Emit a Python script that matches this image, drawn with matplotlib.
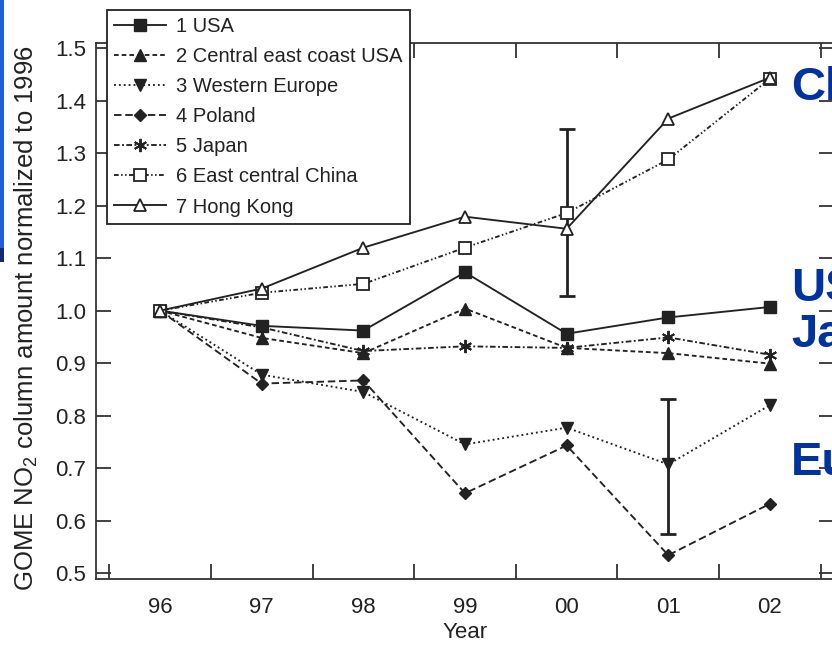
import matplotlib
matplotlib.use("Agg")
import matplotlib.pyplot as plt
from matplotlib.ticker import FixedLocator, FixedFormatter
from matplotlib.patches import Rectangle

plt.rcParams['font.family'] = ['Liberation Sans', 'DejaVu Sans']
plt.rcParams['mathtext.fontset'] = 'custom'
plt.rcParams['mathtext.rm'] = 'Liberation Sans'
plt.rcParams['mathtext.it'] = 'Liberation Sans:italic'

# ---- data ----
years = [96, 97, 98, 99, 100, 101, 102]
year_labels = ['96', '97', '98', '99', '00', '01', '02']
usa = [1.0, 0.971, 0.962, 1.073, 0.956, 0.987, 1.007]
ce_usa = [1.0, 0.948, 0.919, 1.004, 0.929, 0.919, 0.899]
w_europe = [1.0, 0.878, 0.845, 0.745, 0.777, 0.707, 0.820]
poland = [1.0, 0.861, 0.867, 0.652, 0.743, 0.534, 0.632]
japan = [1.0, 0.968, 0.923, 0.932, 0.929, 0.949, 0.916]
china = [1.0, 1.034, 1.051, 1.120, 1.186, 1.288, 1.442]
hong_kong = [1.0, 1.042, 1.120, 1.179, 1.156, 1.366, 1.444]

series_names = ['1 USA', '2 Central east coast USA', '3 Western Europe', '4 Poland',
                '5 Japan', '6 East central China', '7 Hong Kong']

err_x = [100, 101]
err_lo = [1.027, 0.574]
err_hi = [1.346, 0.831]

y_ticks = [0.5, 0.6, 0.7, 0.8, 0.9, 1.0, 1.1, 1.2, 1.3, 1.4, 1.5]
region_labels = ['China', 'USA', 'Japan', 'Europe']

# ---- figure ----
W, H = 832, 645
fig = plt.figure(figsize=(W / 100, H / 100), dpi=100)
ax = fig.add_axes([96 / W, 1 - 579 / H, (834 - 96) / W, (579 - 43) / H])

lc = '#222222'
lw = 1.35
styles = [
    dict(ls='-', marker='s', ms=8.5, mfc=lc, mec=lc),
    dict(ls=(0, (2.5, 1.6)), marker='^', ms=8, mfc=lc, mec=lc),
    dict(ls=(0, (1, 1.6)), marker='v', ms=8.5, mfc=lc, mec=lc),
    dict(ls=(0, (4, 2)), marker='D', ms=6.3, mfc=lc, mec=lc),
    dict(ls=(0, (3, 1.3, 1, 1.3)), marker=(6, 2, 0), ms=9.5, mfc=lc, mec=lc, mew=1.4),
    dict(ls=(0, (2.5, 1.3, 0.8, 1.3, 0.8, 1.3)), marker='s', ms=8.5, mfc='white', mec=lc, mew=1.3),
    dict(ls='-', marker='^', ms=9, mfc='white', mec=lc, mew=1.3),
]
data = [usa, ce_usa, w_europe, poland, japan, china, hong_kong]

# error bars (below markers)
mid = [(a + b) / 2 for a, b in zip(err_lo, err_hi)]
half = [(b - a) / 2 for a, b in zip(err_lo, err_hi)]
ax.errorbar(err_x, mid, yerr=half, fmt='none', ecolor=lc, elinewidth=2.0,
            capsize=5.5, capthick=2.0, zorder=2)

handles = []
for vals, st, name in zip(data, styles, series_names):
    h, = ax.plot(years, vals, color=lc, lw=lw, label=name, zorder=3, **st)
    handles.append(h)

ax.set_xlim(95.37, 102.63)
ax.set_ylim(0.4886, 1.510)

# x ticks: labels at years, tick marks at half-years
ax.xaxis.set_major_locator(FixedLocator(years))
ax.xaxis.set_major_formatter(FixedFormatter(year_labels))
ax.xaxis.set_minor_locator(FixedLocator([y - 0.5 for y in years] + [years[-1] + 0.5]))
ax.tick_params(axis='x', which='major', length=0, pad=13, labelsize=16, colors='#222222')
ax.tick_params(axis='x', which='minor', direction='in', length=11, width=1.3,
               top=True, bottom=True, color='#333333')
ax.set_yticks(y_ticks)
ax.set_yticklabels([f'{v:.1f}' for v in y_ticks])
ax.tick_params(axis='y', which='major', direction='in', length=11, width=1.3,
               left=True, right=True, pad=7, labelsize=16, colors='#222222')
ax.tick_params(axis='y', which='major', color='#333333')

for sp in ax.spines.values():
    sp.set_linewidth(1.3)
    sp.set_color('#333333')

ax.set_xlabel('Year', fontsize=16, color='#222222', labelpad=3)
fig.text(26 / W, 1 - 318 / H, 'GOME NO$_2$ column amount normalized to 1996',
         rotation=90, ha='center', va='center', fontsize=18.5, color='#222222')

leg = fig.legend(handles=handles, loc='upper left',
                 bbox_to_anchor=(107 / W, 1 - 10 / H), bbox_transform=fig.transFigure,
                 fontsize=14.5, frameon=True, fancybox=False, framealpha=1,
                 edgecolor='#222222', borderpad=0.35, labelspacing=0.55,
                 handlelength=2.6, handletextpad=0.5, borderaxespad=0, numpoints=1)
leg.get_frame().set_linewidth(1.3)
for t in leg.get_texts():
    t.set_color('#222222')

# blue region labels (cut off at the right edge, as in the source slide)
blue = '#0033a0'
baselines = [100, 301, 347, 475]
for lab, b in zip(region_labels, baselines):
    fig.text(791 / W, 1 - b / H, lab, ha='left', va='baseline', fontsize=34,
             fontweight='bold', color=blue)

# blue strip at the left edge
fig.patches.append(Rectangle((0, 1 - 262 / H), 4 / W, 262 / H, transform=fig.transFigure,
                             facecolor='#1f5fd8', edgecolor='none', zorder=0))
fig.patches.append(Rectangle((0, 1 - 262 / H), 4 / W, 14 / H, transform=fig.transFigure,
                             facecolor='#102a70', edgecolor='none', zorder=0))

fig.savefig('out.png', dpi=100)
